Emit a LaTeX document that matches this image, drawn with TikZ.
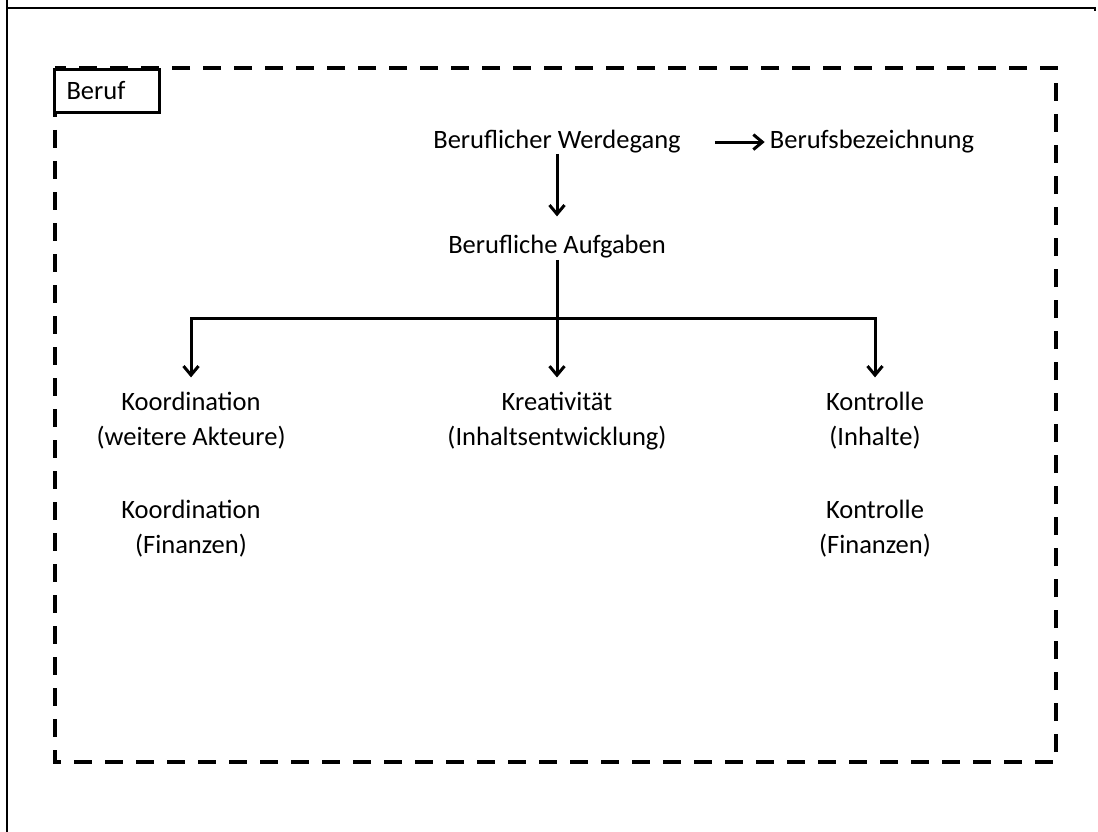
\documentclass[tikz,border=0pt]{standalone}
\usepackage{fontspec}
\setmainfont{Carlito}
\usetikzlibrary{arrows.meta}
\begin{document}
\begin{tikzpicture}[x=1pt,y=-1pt,
  lbl/.style={font=\fontsize{26.5}{35}\selectfont, align=center, inner sep=0pt},
  conn/.style={line width=3pt},
  arr/.style={conn, -{Straight Barb[length=9pt,width=15pt,line width=3pt]}},
  pageframe/.style={line width=1.6pt},
  zone/.style={line width=4pt, dash pattern=on 18pt off 13pt},
  tag/.style={draw, line width=3pt, fill=white, anchor=north west,
    minimum width=105pt, minimum height=43pt, inner xsep=12pt,
    text width=81pt, align=left, font=\fontsize{26.5}{30}\selectfont},
]
\useasboundingbox (0,0) rectangle (1098,832);
\fill[white] (0,0) rectangle (1098,832);

% page frame lines
\draw[pageframe] (7,0) -- (7,832);
\draw[pageframe] (7,8) -- (1095,8) -- (1095,11);

% dashed zone with its tag
\draw[zone] (55,68) rectangle (1056,762);
\node[tag] (beruf) at (53,68) {Beruf};

% labels (base = baseline of the last line)
\node[lbl, anchor=base] (werdegang) at (557,149) {Beruflicher Werdegang};
\node[lbl, anchor=base] (bezeichnung) at (872,149) {Berufsbezeichnung};
\node[lbl, anchor=base] (aufgaben) at (557,253) {Berufliche Aufgaben};

\node[lbl, anchor=base] (koordA) at (191,445) {Koordination\\(weitere Akteure)};
\node[lbl, anchor=base] (kreativ) at (557,445) {Kreativität\\(Inhaltsentwicklung)};
\node[lbl, anchor=base] (kontrA) at (875,445) {Kontrolle\\(Inhalte)};

\node[lbl, anchor=base] (koordB) at (191,553) {Koordination\\(Finanzen)};
\node[lbl, anchor=base] (kontrB) at (875,553) {Kontrolle\\(Finanzen)};

% connectors
\draw[arr, shorten <=34pt, shorten >=5pt] (werdegang.east) -- (bezeichnung.west);
\draw[arr, shorten >=18pt] (werdegang) -- (aufgaben);

\coordinate (bus) at (557,318);
\draw[conn, shorten <=2pt] (aufgaben) -- (bus);
\draw[arr, shorten >=14pt] (bus) -| (koordA.north);
\draw[arr, shorten >=14pt] (bus) -- (kreativ.north);
\draw[arr, shorten >=14pt] (bus) -| (kontrA.north);
\end{tikzpicture}
\end{document}
